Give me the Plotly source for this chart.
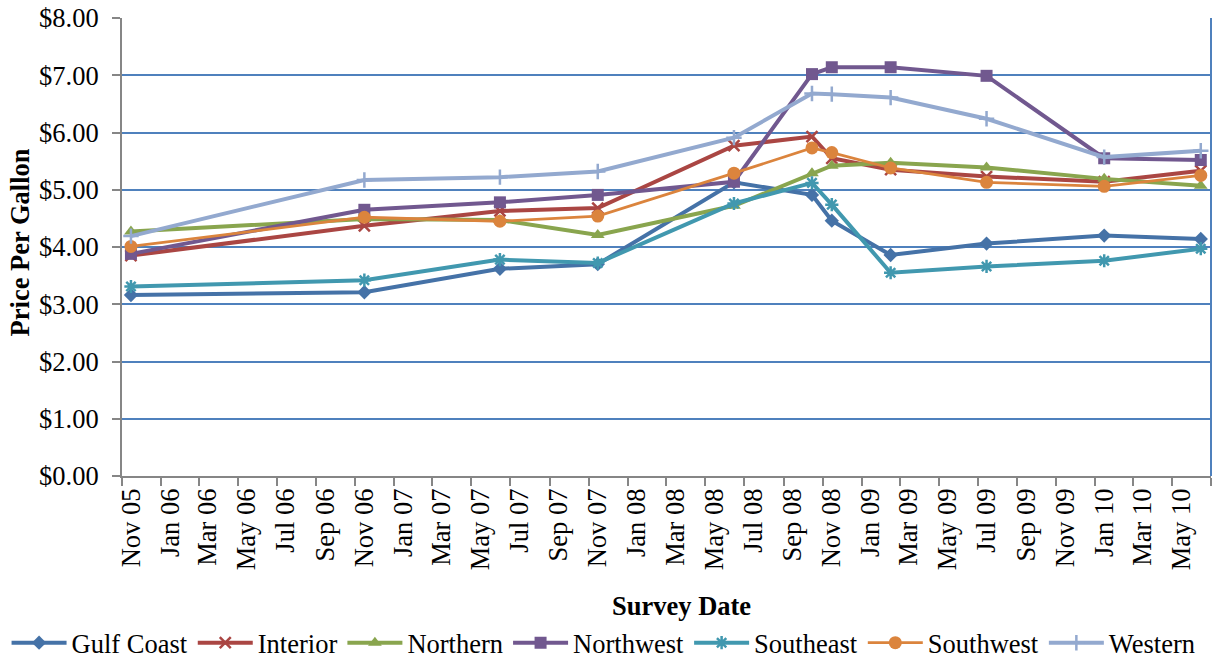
import pandas as pd
import plotly.graph_objects as go

# Survey dates (points sit at the middle of each survey month)
survey_dates = ["2005-11-15", "2006-11-15", "2007-06-15", "2007-11-15", "2008-06-15",
                "2008-10-15", "2008-11-15", "2009-02-15", "2009-07-15", "2010-01-15",
                "2010-06-15"]

gulf_coast = [3.16, 3.21, 3.62, 3.70, 5.13, 4.91, 4.46, 3.86, 4.06, 4.20, 4.14]
interior   = [3.85, 4.37, 4.63, 4.68, 5.77, 5.93, 5.55, 5.35, 5.23, 5.14, 5.33]
northern   = [4.27, 4.49, 4.47, 4.21, 4.72, 5.29, 5.42, 5.47, 5.39, 5.19, 5.07]
northwest  = [3.88, 4.65, 4.78, 4.91, 5.14, 7.02, 7.14, 7.14, 6.99, 5.55, 5.52]
southeast  = [3.31, 3.42, 3.78, 3.72, 4.76, 5.12, 4.74, 3.55, 3.66, 3.76, 3.97]
southwest  = [4.01, 4.52, 4.45, 4.54, 5.29, 5.73, 5.65, 5.38, 5.13, 5.06, 5.25]
western    = [4.19, 5.17, 5.22, 5.32, 5.91, 6.68, 6.67, 6.61, 6.24, 5.57, 5.68]

tick_labels = ["Nov 05", "Jan 06", "Mar 06", "May 06", "Jul 06", "Sep 06", "Nov 06",
               "Jan 07", "Mar 07", "May 07", "Jul 07", "Sep 07", "Nov 07", "Jan 08",
               "Mar 08", "May 08", "Jul 08", "Sep 08", "Nov 08", "Jan 09", "Mar 09",
               "May 09", "Jul 09", "Sep 09", "Nov 09", "Jan 10", "Mar 10", "May 10"]
tick_positions = [pd.to_datetime(t, format="%b %y") + pd.Timedelta(days=14) for t in tick_labels]

x_title = "Survey Date"
y_title = "Price Per Gallon"

series = [
    ("Gulf Coast", gulf_coast, "#4572A7", dict(symbol="diamond", size=11), 4),
    ("Interior", interior, "#AA4643", dict(symbol="x-thin-open", size=11, line=dict(width=2.5, color="#AA4643")), 4),
    ("Northern", northern, "#89A54E", dict(symbol="triangle-up", size=12), 4),
    ("Northwest", northwest, "#71588F", dict(symbol="square", size=12), 4),
    ("Southeast", southeast, "#4198AF", dict(symbol="asterisk-open", size=11, line=dict(width=2.5, color="#4198AF")), 4),
    ("Southwest", southwest, "#DB843D", dict(symbol="circle", size=13), 2.8),
    ("Western", western, "#93A9CF", dict(symbol="cross-thin-open", size=11, line=dict(width=2.5, color="#93A9CF")), 4),
]

FONT = "Liberation Serif, Times New Roman, serif"
FS = 26.5

fig = go.Figure()
for name, vals, color, marker, lw in series:
    fig.add_trace(go.Scatter(
        x=survey_dates, y=vals, name=name, mode="lines+markers",
        line=dict(color=color, width=lw),
        marker=dict(color=color, **marker),
    ))

fig.update_layout(
    width=1228, height=658,
    margin=dict(l=122, r=17, t=18, b=182, autoexpand=False),
    plot_bgcolor="white", paper_bgcolor="white",
    font=dict(family=FONT, size=FS, color="black"),
    showlegend=True,
    legend=dict(orientation="h", x=-0.106, xanchor="left", y=-0.3646, yanchor="middle",
                itemwidth=55,
                font=dict(family=FONT, size=FS), bgcolor="rgba(0,0,0,0)"),
    xaxis=dict(
        type="date", range=["2005-11-01", "2010-07-01"], automargin=False,
        tickmode="array", tickvals=tick_positions, ticktext=tick_labels,
        tickangle=-90, ticks="", showgrid=False, zeroline=False,
        showline=True, linecolor="#868686", linewidth=2,
        tickfont=dict(family=FONT, size=FS),
        minor=dict(tickmode="linear", tick0="2005-11-01", dtick="M2",
                   ticks="outside", ticklen=8, tickcolor="#868686", tickwidth=2,
                   showgrid=False),
    ),
    yaxis=dict(
        range=[0, 8], dtick=1, tick0=0, tickformat="$.2f", automargin=False,
        ticks="outside", ticklen=8, tickcolor="#868686", tickwidth=2,
        ticklabelstandoff=8, ticklabeloverflow="allow",
        showline=True, linecolor="#868686", linewidth=2,
        showgrid=True, gridcolor="#4F81BD", gridwidth=2, zeroline=False,
        tickfont=dict(family=FONT, size=FS),
    ),
    annotations=[
        dict(text=x_title, xref="paper", yref="paper", x=0.514, y=-0.284,
             xanchor="center", yanchor="middle", showarrow=False,
             font=dict(family=FONT, size=FS, weight="bold")),
        dict(text=y_title, xref="paper", yref="paper", x=-0.0937, y=0.51,
             xanchor="center", yanchor="middle", showarrow=False, textangle=-90,
             font=dict(family=FONT, size=FS, weight="bold")),
    ],
    shapes=[dict(type="line", xref="paper", yref="paper", x0=1, x1=1, y0=0, y1=1,
                 line=dict(color="#4F81BD", width=2))],
)

fig.write_html("out.html", config={"displayModeBar": False},
               post_script="document.body.style.margin='0';")
